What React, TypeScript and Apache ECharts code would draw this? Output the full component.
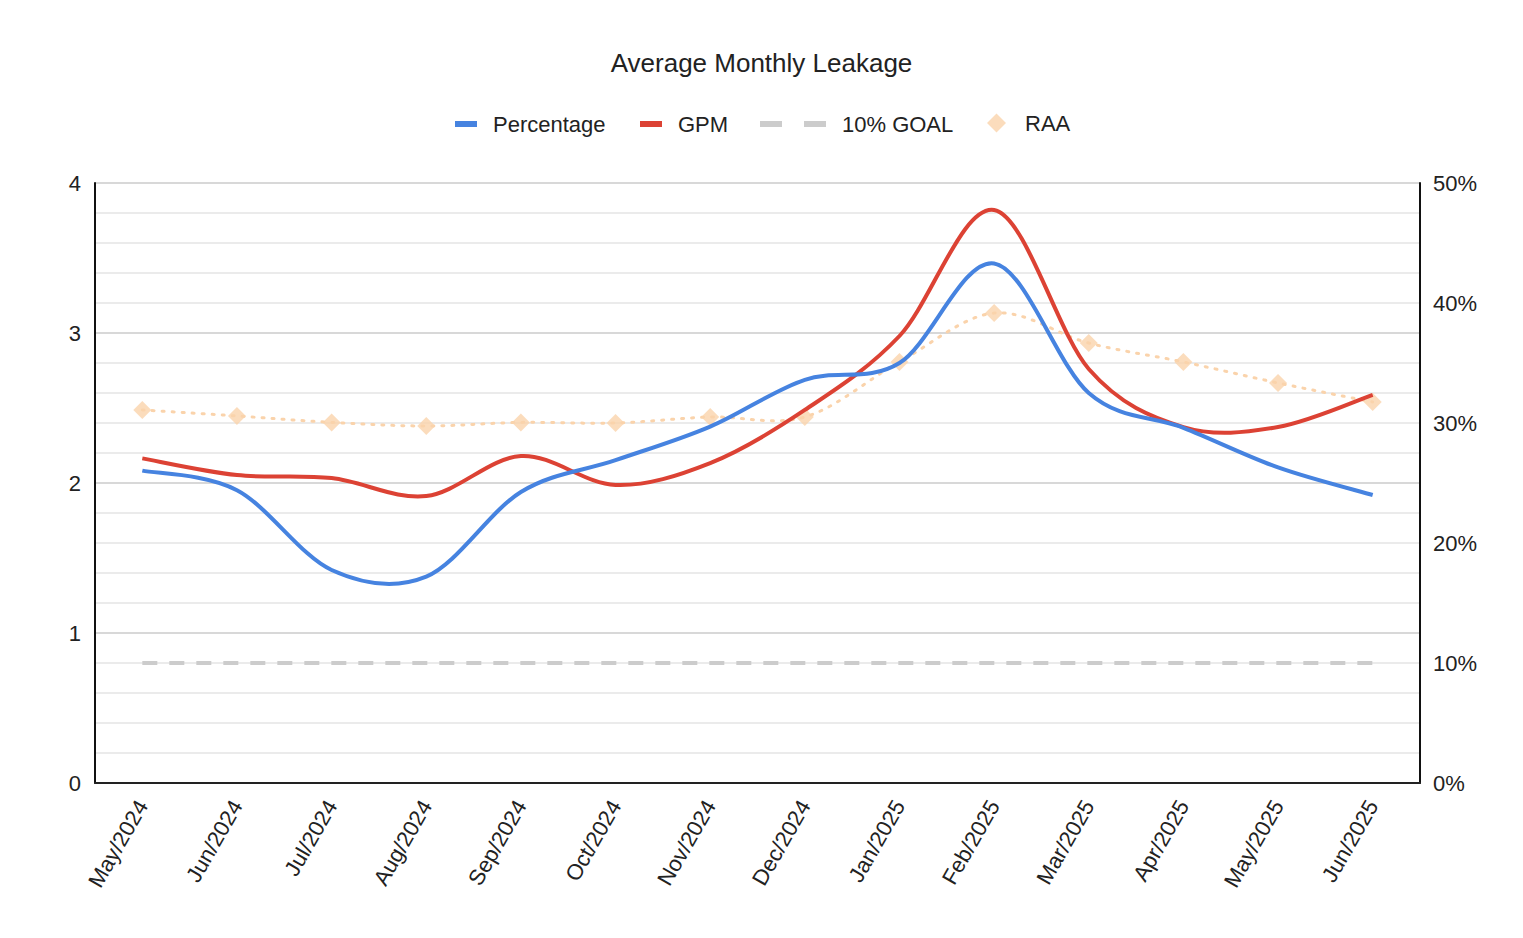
import React, { useEffect, useRef } from "react";
import * as echarts from "echarts";

const months = [
  "May/2024", "Jun/2024", "Jul/2024", "Aug/2024", "Sep/2024", "Oct/2024", "Nov/2024",
  "Dec/2024", "Jan/2025", "Feb/2025", "Mar/2025", "Apr/2025", "May/2025", "Jun/2025",
];
// right axis (fraction)
const percentage = [0.2603, 0.244, 0.1775, 0.172, 0.2425, 0.269, 0.297, 0.336, 0.35, 0.433, 0.325, 0.296, 0.263, 0.24];
// left axis
const gpm = [2.164, 2.053, 2.033, 1.913, 2.18, 1.987, 2.133, 2.487, 2.98, 3.82, 2.76, 2.373, 2.373, 2.587];
// right axis (fraction)
const goal = [0.1, 0.1, 0.1, 0.1, 0.1, 0.1, 0.1, 0.1, 0.1, 0.1, 0.1, 0.1, 0.1, 0.1];
// left axis
const raa = [2.487, 2.447, 2.404, 2.38, 2.404, 2.4, 2.44, 2.44, 2.807, 3.133, 2.933, 2.807, 2.667, 2.54];

const FONT = "'Liberation Sans', Arial, sans-serif";
const BLUE = "#4683e0";
const RED = "#dc4234";
const GREY = "#cccccc";
const PEACH = "#fad3ab";

function splinePath(pts: number[][]): string {
  let d = `M${pts[0][0]},${pts[0][1]}`;
  for (let i = 0; i < pts.length - 1; i++) {
    const p0 = pts[i - 1] || pts[i];
    const p1 = pts[i];
    const p2 = pts[i + 1];
    const p3 = pts[i + 2] || pts[i + 1];
    const c1x = p1[0] + (p2[0] - p0[0]) / 6;
    const c1y = p1[1] + (p2[1] - p0[1]) / 6;
    const c2x = p2[0] - (p3[0] - p1[0]) / 6;
    const c2y = p2[1] - (p3[1] - p1[1]) / 6;
    d += ` C${c1x},${c1y} ${c2x},${c2y} ${p2[0]},${p2[1]}`;
  }
  return d;
}

function curveSeries(name: string, values: number[], yAxisIndex: number, color: string, width: number, dash: number[] | null, z: number) {
  return {
    name,
    type: "custom",
    yAxisIndex,
    z,
    silent: true,
    itemStyle: { color },
    data: values.map((v, i) => [i, v]),
    renderItem: (params: any, api: any) => {
      if (params.dataIndex !== 0) return null;
      const pts = values.map((v, i) => api.coord([i, v]));
      return {
        type: "path",
        shape: { pathData: splinePath(pts) },
        style: {
          fill: "none",
          stroke: color,
          lineWidth: width,
          lineDash: dash || undefined,
          lineCap: dash ? "round" : "butt",
          lineJoin: "round",
        },
      };
    },
  };
}

export default function App() {
  const ref = useRef<HTMLDivElement>(null);
  useEffect(() => {
    if (!ref.current) return;
    const chart = echarts.init(ref.current, undefined, { renderer: "svg" });
    const legendBase = {
      top: 113,
      padding: 0,
      itemHeight: 6,
      itemWidth: 22,
      textStyle: { fontFamily: FONT, fontSize: 22, color: "#222", padding: [0, 0, 0, 11] },
      itemStyle: { borderWidth: 0 },
      selectedMode: false,
    };
    chart.setOption({
      animation: false,
      textStyle: { fontFamily: FONT },
      title: {
        text: "Average Monthly Leakage",
        left: "center",
        top: 45,
        textStyle: { fontFamily: FONT, fontSize: 26, fontWeight: "normal", color: "#222" },
      },
      legend: [
        { ...legendBase, left: 455, icon: "rect", data: ["Percentage"] },
        { ...legendBase, left: 640, icon: "rect", data: ["GPM"] },
        {
          ...legendBase,
          left: 760,
          itemWidth: 66,
          icon: "path://M0,0H22V6H0Z M44,0H66V6H44Z",
          data: ["10% GOAL"],
        },
        {
          ...legendBase,
          left: 987,
          top: 112,
          itemWidth: 19,
          itemHeight: 19,
          icon: "diamond",
          textStyle: { ...legendBase.textStyle, padding: [0, 0, 0, 14] },
          data: ["RAA"],
        },
      ],
      grid: { left: 95, right: 103, top: 183, bottom: 155, containLabel: false },
      xAxis: {
        type: "category",
        data: months,
        boundaryGap: true,
        axisLine: { show: true, lineStyle: { color: "#222", width: 2 } },
        axisTick: { show: false },
        axisLabel: { rotate: 60, margin: 19, fontSize: 22, color: "#222", fontFamily: FONT, interval: 0 },
        splitLine: { show: false },
      },
      yAxis: [
        {
          type: "value",
          min: 0,
          max: 4,
          interval: 1,
          axisLine: { show: true, lineStyle: { color: "#111", width: 2 } },
          axisTick: { show: false },
          axisLabel: { fontSize: 22, color: "#222", margin: 14, fontFamily: FONT },
          splitLine: { show: true, lineStyle: { color: "#cbcbcb", width: 1.5 } },
          minorTick: { show: false, splitNumber: 5 },
          minorSplitLine: { show: true, lineStyle: { color: "#e4e4e4", width: 1.5 } },
        },
        {
          type: "value",
          min: 0,
          max: 0.5,
          interval: 0.1,
          position: "right",
          axisLine: { show: true, lineStyle: { color: "#111", width: 2 } },
          axisTick: { show: false },
          axisLabel: {
            fontSize: 22,
            color: "#222",
            margin: 13,
            fontFamily: FONT,
            formatter: (v: number) => `${Math.round(v * 100)}%`,
          },
          splitLine: { show: false },
        },
      ],
      series: [
        {
          name: "RAA",
          type: "scatter",
          yAxisIndex: 0,
          data: raa,
          symbol: "diamond",
          symbolSize: 18,
          itemStyle: { color: PEACH },
          z: 2,
        },
        curveSeries("RAA", raa, 0, PEACH, 3, [2, 8], 2),
        {
          name: "10% GOAL",
          type: "line",
          yAxisIndex: 1,
          data: goal,
          symbol: "none",
          color: GREY,
          lineStyle: { color: GREY, width: 4, type: [15, 12] },
          z: 2,
        },
        curveSeries("GPM", gpm, 0, RED, 4, null, 3),
        curveSeries("Percentage", percentage, 1, BLUE, 4, null, 4),
      ],
    });
    return () => chart.dispose();
  }, []);
  return (
    <div
      ref={ref}
      style={{ position: "absolute", left: 0, top: 0, width: 1523, height: 938, background: "#fff" }}
    />
  );
}
